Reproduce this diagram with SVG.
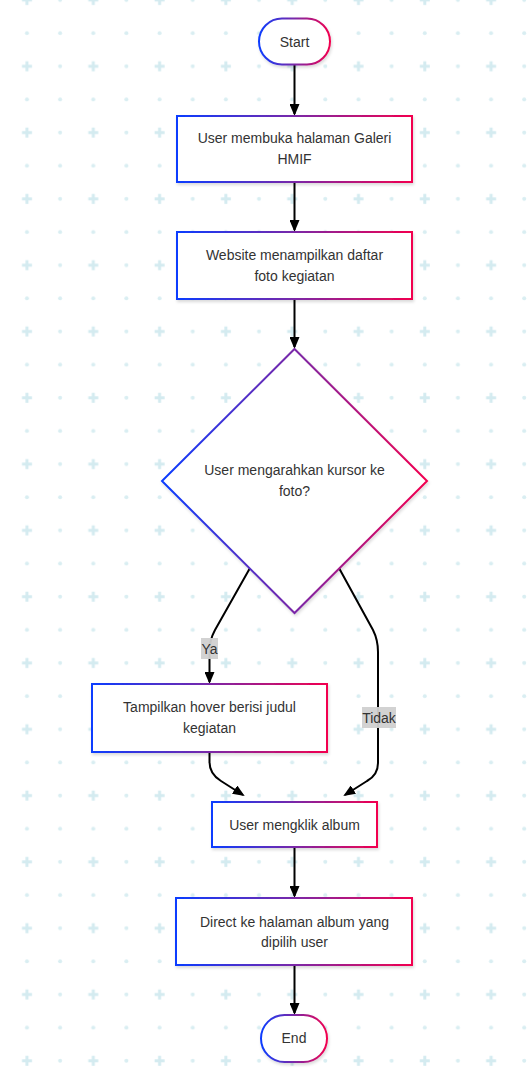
<svg xmlns="http://www.w3.org/2000/svg" width="531" height="1079" viewBox="0 0 531 1079">
<style>
  .node-shape { fill: #ffffff; stroke: url(#grad); stroke-width: 2; filter: url(#shadow); }
  .label { font-family: "Liberation Sans", Arial, sans-serif; font-size: 14px; fill: #333333; text-anchor: middle; }
  .edge { fill: none; stroke: #000000; stroke-width: 2; }
  .edge-label-bg { fill: #d0d0d0; opacity: 0.95; }
</style>
<defs>
  <linearGradient id="grad" x1="0" y1="0" x2="1" y2="0">
    <stop offset="0" stop-color="#0a3cff"/>
    <stop offset="0.5" stop-color="#7a28a8"/>
    <stop offset="1" stop-color="#f2004f"/>
  </linearGradient>
  <filter id="shadow" x="-10%" y="-10%" width="120%" height="130%">
    <feDropShadow dx="1" dy="2" stdDeviation="1.5" flood-color="#000000" flood-opacity="0.15"/>
  </filter>
  <pattern id="bg" patternUnits="userSpaceOnUse" x="10.4" y="-16.6" width="66.3" height="66.3">
    <rect x="11.6" y="15.1" width="10" height="3" fill="#d4ebf0"/>
    <rect x="15.1" y="11.6" width="3" height="10" fill="#d4ebf0"/>
    <circle cx="49.7" cy="16.6" r="2" fill="#d9eef2"/>
    <circle cx="16.6" cy="49.7" r="2" fill="#d9eef2"/>
    <circle cx="49.7" cy="49.7" r="2" fill="#d9eef2"/>
  </pattern>
  <marker id="arrow" viewBox="0 0 12 10" refX="10" refY="5" markerWidth="12" markerHeight="10" markerUnits="userSpaceOnUse" orient="auto">
    <path d="M0,0 L12,5 L0,10 z" fill="#000000"/>
  </marker>
</defs>
<rect x="0" y="0" width="531" height="1079" fill="#ffffff"/>
<rect x="0" y="0" width="531" height="1079" fill="url(#bg)"/>

<g id="connectors">
  <path class="edge" d="M294.5,65 L294.5,114" marker-end="url(#arrow)"/>
  <path class="edge" d="M294.5,182 L294.5,230" marker-end="url(#arrow)"/>
  <path class="edge" d="M294.5,299 L294.5,347" marker-end="url(#arrow)"/>
  <path class="edge" d="M250,568 L215,630 Q209.5,640 209.5,652 L209.5,682" marker-end="url(#arrow)"/>
  <path class="edge" d="M339,568 L373,630 Q378,640 378,652 L378,763 Q378,775 367,781 L345,795" marker-end="url(#arrow)"/>
  <path class="edge" d="M209.5,752 L209.5,762 Q209.5,774 221,781 L243,795" marker-end="url(#arrow)"/>
  <path class="edge" d="M294.5,847 L294.5,896" marker-end="url(#arrow)"/>
  <path class="edge" d="M294.5,965 L294.5,1013" marker-end="url(#arrow)"/>
  <g id="label-ya">
    <rect class="edge-label-bg" x="201" y="638" width="17" height="21"/>
    <text class="label" x="209.5" y="653.5">Ya</text>
  </g>
  <g id="label-tidak">
    <rect class="edge-label-bg" x="362" y="707" width="34" height="21"/>
    <text class="label" x="379" y="722.5">Tidak</text>
  </g>
</g>

<g id="start">
  <rect class="node-shape" x="259" y="18.5" width="71" height="46" rx="23" ry="23"/>
  <text class="label" x="294.5" y="46.5">Start</text>
</g>
<g id="step1">
  <rect class="node-shape" x="177" y="116" width="235" height="66"/>
  <text class="label" x="294.5" y="143">User membuka halaman Galeri</text>
  <text class="label" x="294.5" y="164">HMIF</text>
</g>
<g id="step2">
  <rect class="node-shape" x="177" y="232" width="235" height="67"/>
  <text class="label" x="294.5" y="260">Website menampilkan daftar</text>
  <text class="label" x="294.5" y="281">foto kegiatan</text>
</g>
<g id="decision">
  <polygon class="node-shape" points="294.5,349 427,481 294.5,613 162,481"/>
  <text class="label" x="294.5" y="475">User mengarahkan kursor ke</text>
  <text class="label" x="294.5" y="496">foto?</text>
</g>
<g id="hover">
  <rect class="node-shape" x="92" y="684" width="235" height="68"/>
  <text class="label" x="209.5" y="712">Tampilkan hover berisi judul</text>
  <text class="label" x="209.5" y="733">kegiatan</text>
</g>
<g id="klik">
  <rect class="node-shape" x="212" y="802" width="165" height="45"/>
  <text class="label" x="294.5" y="830">User mengklik album</text>
</g>
<g id="direct">
  <rect class="node-shape" x="176" y="898" width="236" height="67"/>
  <text class="label" x="294.5" y="927">Direct ke halaman album yang</text>
  <text class="label" x="294.5" y="947">dipilih user</text>
</g>
<g id="end">
  <rect class="node-shape" x="261" y="1015" width="66" height="47" rx="23.5" ry="23.5"/>
  <text class="label" x="294" y="1043">End</text>
</g>
</svg>
